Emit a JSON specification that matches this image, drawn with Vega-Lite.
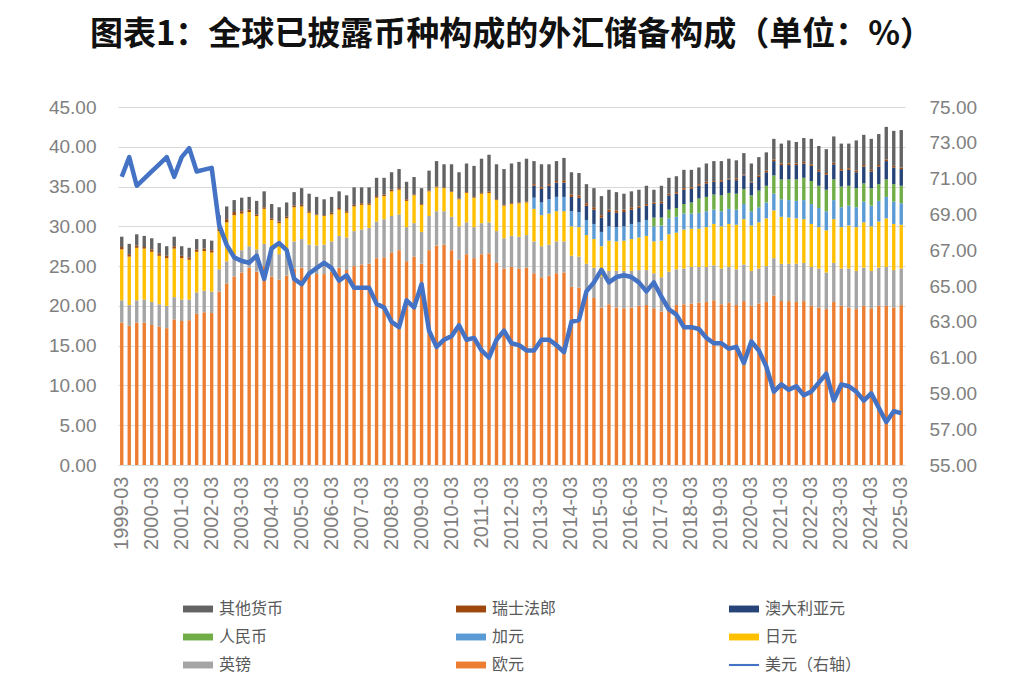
{
  "$schema": "https://vega.github.io/schema/vega-lite/v6.json",
  "autosize": {"type": "none"},
  "width": 787,
  "height": 358,
  "padding": {"left": 118, "top": 107, "right": 119, "bottom": 222},
  "background": "white",
  "title": {
    "text": "图表1：全球已披露币种构成的外汇储备构成（单位：%）",
    "font": "Noto Sans CJK SC",
    "fontSize": 33,
    "fontWeight": "bold",
    "color": "#111111",
    "anchor": "middle",
    "offset": 46
  },
  "datasets": {
    "reserves": [
      {"q": "1999-03", "eur": 17.9, "gbp": 2.8, "jpy": 6.4, "chf": 0.3, "oth": 1.3, "usd": 71.1},
      {"q": "1999-06", "eur": 17.5, "gbp": 2.6, "jpy": 6.1, "chf": 0.3, "oth": 1.3, "usd": 72.2},
      {"q": "1999-09", "eur": 17.9, "gbp": 2.8, "jpy": 6.6, "chf": 0.3, "oth": 1.4, "usd": 70.6},
      {"q": "1999-12", "eur": 17.9, "gbp": 2.9, "jpy": 6.4, "chf": 0.2, "oth": 1.4, "usd": 71.0},
      {"q": "2000-03", "eur": 17.6, "gbp": 2.9, "jpy": 6.3, "chf": 0.3, "oth": 1.4, "usd": 71.4},
      {"q": "2000-06", "eur": 17.4, "gbp": 2.8, "jpy": 6.1, "chf": 0.3, "oth": 1.3, "usd": 71.8},
      {"q": "2000-09", "eur": 17.2, "gbp": 2.8, "jpy": 6.0, "chf": 0.3, "oth": 1.2, "usd": 72.2},
      {"q": "2000-12", "eur": 18.3, "gbp": 2.8, "jpy": 6.1, "chf": 0.3, "oth": 1.2, "usd": 71.1},
      {"q": "2001-03", "eur": 18.1, "gbp": 2.7, "jpy": 5.2, "chf": 0.3, "oth": 1.2, "usd": 72.2},
      {"q": "2001-06", "eur": 18.2, "gbp": 2.6, "jpy": 5.0, "chf": 0.3, "oth": 1.2, "usd": 72.7},
      {"q": "2001-09", "eur": 19.0, "gbp": 2.7, "jpy": 5.1, "chf": 0.3, "oth": 1.3, "usd": 71.4},
      {"q": "2001-12", "eur": 19.2, "gbp": 2.7, "jpy": 5.0, "chf": 0.3, "oth": 1.2, "usd": 71.5},
      {"q": "2002-03", "eur": 19.1, "gbp": 2.7, "jpy": 4.9, "chf": 0.3, "oth": 1.2, "usd": 71.6},
      {"q": "2002-06", "eur": 21.8, "gbp": 2.8, "jpy": 4.8, "chf": 0.4, "oth": 1.6, "usd": 68.4},
      {"q": "2002-09", "eur": 22.8, "gbp": 2.8, "jpy": 4.9, "chf": 0.4, "oth": 1.6, "usd": 67.3},
      {"q": "2002-12", "eur": 23.7, "gbp": 2.8, "jpy": 4.9, "chf": 0.4, "oth": 1.5, "usd": 66.6},
      {"q": "2003-03", "eur": 24.2, "gbp": 2.8, "jpy": 4.6, "chf": 0.3, "oth": 1.7, "usd": 66.4},
      {"q": "2003-06", "eur": 24.8, "gbp": 2.7, "jpy": 4.3, "chf": 0.3, "oth": 1.6, "usd": 66.3},
      {"q": "2003-09", "eur": 24.3, "gbp": 2.8, "jpy": 4.2, "chf": 0.2, "oth": 1.7, "usd": 66.7},
      {"q": "2003-12", "eur": 25.0, "gbp": 2.8, "jpy": 4.4, "chf": 0.2, "oth": 2.0, "usd": 65.4},
      {"q": "2004-03", "eur": 23.7, "gbp": 3.1, "jpy": 4.0, "chf": 0.2, "oth": 1.8, "usd": 67.1},
      {"q": "2004-06", "eur": 23.3, "gbp": 3.2, "jpy": 3.9, "chf": 0.2, "oth": 1.8, "usd": 67.4},
      {"q": "2004-09", "eur": 23.8, "gbp": 3.2, "jpy": 4.0, "chf": 0.2, "oth": 1.8, "usd": 67.0},
      {"q": "2004-12", "eur": 24.7, "gbp": 3.4, "jpy": 4.3, "chf": 0.2, "oth": 1.7, "usd": 65.4},
      {"q": "2005-03", "eur": 24.8, "gbp": 3.6, "jpy": 4.1, "chf": 0.2, "oth": 2.1, "usd": 65.1},
      {"q": "2005-06", "eur": 24.1, "gbp": 3.6, "jpy": 4.0, "chf": 0.2, "oth": 2.2, "usd": 65.7},
      {"q": "2005-09", "eur": 24.0, "gbp": 3.6, "jpy": 3.8, "chf": 0.1, "oth": 2.2, "usd": 66.0},
      {"q": "2005-12", "eur": 24.0, "gbp": 3.7, "jpy": 3.6, "chf": 0.1, "oth": 2.0, "usd": 66.3},
      {"q": "2006-03", "eur": 24.3, "gbp": 3.8, "jpy": 3.4, "chf": 0.2, "oth": 2.0, "usd": 66.0},
      {"q": "2006-06", "eur": 24.8, "gbp": 4.0, "jpy": 3.3, "chf": 0.2, "oth": 2.1, "usd": 65.3},
      {"q": "2006-09", "eur": 24.5, "gbp": 4.1, "jpy": 3.1, "chf": 0.2, "oth": 2.0, "usd": 65.6},
      {"q": "2006-12", "eur": 25.0, "gbp": 4.4, "jpy": 3.1, "chf": 0.2, "oth": 2.2, "usd": 64.9},
      {"q": "2007-03", "eur": 25.2, "gbp": 4.4, "jpy": 3.1, "chf": 0.2, "oth": 2.0, "usd": 64.9},
      {"q": "2007-06", "eur": 25.3, "gbp": 4.5, "jpy": 2.9, "chf": 0.2, "oth": 2.0, "usd": 64.9},
      {"q": "2007-09", "eur": 26.0, "gbp": 4.6, "jpy": 3.0, "chf": 0.2, "oth": 2.3, "usd": 64.0},
      {"q": "2007-12", "eur": 26.1, "gbp": 4.8, "jpy": 2.9, "chf": 0.2, "oth": 2.1, "usd": 63.8},
      {"q": "2008-03", "eur": 26.7, "gbp": 4.6, "jpy": 3.1, "chf": 0.2, "oth": 2.2, "usd": 63.0},
      {"q": "2008-06", "eur": 27.0, "gbp": 4.5, "jpy": 3.1, "chf": 0.2, "oth": 2.4, "usd": 62.7},
      {"q": "2008-09", "eur": 25.6, "gbp": 4.3, "jpy": 3.3, "chf": 0.2, "oth": 2.2, "usd": 64.2},
      {"q": "2008-12", "eur": 26.2, "gbp": 4.2, "jpy": 3.5, "chf": 0.1, "oth": 2.2, "usd": 63.8},
      {"q": "2009-03", "eur": 25.3, "gbp": 4.0, "jpy": 3.4, "chf": 0.1, "oth": 2.0, "usd": 65.1},
      {"q": "2009-06", "eur": 27.0, "gbp": 4.3, "jpy": 3.1, "chf": 0.1, "oth": 2.5, "usd": 62.5},
      {"q": "2009-09", "eur": 27.6, "gbp": 4.3, "jpy": 3.0, "chf": 0.1, "oth": 3.2, "usd": 61.6},
      {"q": "2009-12", "eur": 27.7, "gbp": 4.2, "jpy": 2.9, "chf": 0.1, "oth": 2.9, "usd": 62.0},
      {"q": "2010-03", "eur": 27.0, "gbp": 4.2, "jpy": 3.1, "chf": 0.1, "oth": 3.4, "usd": 62.2},
      {"q": "2010-06", "eur": 25.8, "gbp": 4.2, "jpy": 3.4, "chf": 0.1, "oth": 3.3, "usd": 62.8},
      {"q": "2010-09", "eur": 26.5, "gbp": 4.0, "jpy": 3.7, "chf": 0.1, "oth": 3.6, "usd": 62.0},
      {"q": "2010-12", "eur": 26.0, "gbp": 3.9, "jpy": 3.7, "chf": 0.1, "oth": 3.9, "usd": 62.1},
      {"q": "2011-03", "eur": 26.5, "gbp": 3.9, "jpy": 3.7, "chf": 0.1, "oth": 4.3, "usd": 61.4},
      {"q": "2011-06", "eur": 26.6, "gbp": 3.9, "jpy": 3.7, "chf": 0.2, "oth": 4.6, "usd": 61.0},
      {"q": "2011-09", "eur": 25.4, "gbp": 4.0, "jpy": 3.9, "chf": 0.1, "oth": 4.4, "usd": 62.0},
      {"q": "2011-12", "eur": 24.7, "gbp": 3.8, "jpy": 4.1, "chf": 0.1, "oth": 4.5, "usd": 62.5},
      {"q": "2012-03", "eur": 24.9, "gbp": 3.9, "jpy": 4.0, "chf": 0.1, "oth": 5.0, "usd": 61.8},
      {"q": "2012-06", "eur": 24.7, "gbp": 4.0, "jpy": 4.2, "chf": 0.1, "oth": 5.1, "usd": 61.7},
      {"q": "2012-09", "eur": 24.8, "gbp": 4.1, "jpy": 4.1, "chf": 0.1, "oth": 5.4, "usd": 61.4},
      {"q": "2012-12", "eur": 24.1, "gbp": 4.0, "jpy": 4.1, "cad": 1.4, "aud": 1.5, "chf": 0.2, "oth": 2.9, "usd": 61.4},
      {"q": "2013-03", "eur": 23.6, "gbp": 3.9, "jpy": 3.9, "cad": 1.6, "aud": 1.7, "chf": 0.2, "oth": 2.9, "usd": 62.0},
      {"q": "2013-06", "eur": 23.8, "gbp": 3.9, "jpy": 3.9, "cad": 1.8, "aud": 1.7, "chf": 0.2, "oth": 2.5, "usd": 62.0},
      {"q": "2013-09", "eur": 24.1, "gbp": 4.0, "jpy": 3.8, "cad": 1.8, "aud": 1.8, "chf": 0.2, "oth": 2.5, "usd": 61.7},
      {"q": "2013-12", "eur": 24.2, "gbp": 3.9, "jpy": 3.8, "cad": 1.8, "aud": 1.8, "chf": 0.3, "oth": 2.8, "usd": 61.3},
      {"q": "2014-03", "eur": 22.4, "gbp": 3.9, "jpy": 3.7, "cad": 1.9, "aud": 1.8, "chf": 0.3, "oth": 2.8, "usd": 63.0},
      {"q": "2014-06", "eur": 22.3, "gbp": 3.9, "jpy": 3.7, "cad": 1.9, "aud": 1.8, "chf": 0.3, "oth": 2.8, "usd": 63.1},
      {"q": "2014-09", "eur": 21.5, "gbp": 3.8, "jpy": 3.6, "cad": 1.9, "aud": 1.8, "chf": 0.3, "oth": 2.4, "usd": 64.7},
      {"q": "2014-12", "eur": 21.0, "gbp": 3.8, "jpy": 3.6, "cad": 1.9, "aud": 1.8, "chf": 0.3, "oth": 2.4, "usd": 65.2},
      {"q": "2015-03", "eur": 19.8, "gbp": 3.9, "jpy": 3.8, "cad": 1.8, "aud": 1.8, "chf": 0.3, "oth": 2.4, "usd": 65.9},
      {"q": "2015-06", "eur": 20.2, "gbp": 4.2, "jpy": 3.8, "cad": 1.8, "aud": 1.8, "chf": 0.3, "oth": 2.5, "usd": 65.2},
      {"q": "2015-09", "eur": 19.8, "gbp": 4.6, "jpy": 3.7, "cad": 1.8, "aud": 1.8, "chf": 0.3, "oth": 2.3, "usd": 65.5},
      {"q": "2015-12", "eur": 19.7, "gbp": 4.7, "jpy": 3.8, "cad": 1.8, "aud": 1.8, "chf": 0.3, "oth": 2.0, "usd": 65.6},
      {"q": "2016-03", "eur": 19.8, "gbp": 4.6, "jpy": 4.0, "cad": 1.9, "aud": 1.8, "chf": 0.3, "oth": 2.0, "usd": 65.5},
      {"q": "2016-06", "eur": 20.0, "gbp": 4.5, "jpy": 4.1, "cad": 1.9, "aud": 1.8, "chf": 0.2, "oth": 2.1, "usd": 65.2},
      {"q": "2016-09", "eur": 20.1, "gbp": 4.4, "jpy": 4.3, "cad": 2.0, "aud": 1.8, "chf": 0.2, "oth": 2.3, "usd": 64.7},
      {"q": "2016-12", "eur": 19.7, "gbp": 4.4, "jpy": 4.0, "cad": 1.9, "rmb": 1.1, "aud": 1.7, "chf": 0.2, "oth": 1.6, "usd": 65.2},
      {"q": "2017-03", "eur": 19.3, "gbp": 4.3, "jpy": 4.6, "cad": 1.9, "rmb": 1.0, "aud": 1.8, "chf": 0.2, "oth": 2.0, "usd": 64.4},
      {"q": "2017-06", "eur": 19.9, "gbp": 4.4, "jpy": 4.7, "cad": 2.0, "rmb": 1.1, "aud": 1.8, "chf": 0.2, "oth": 2.0, "usd": 63.7},
      {"q": "2017-09", "eur": 20.1, "gbp": 4.5, "jpy": 4.6, "cad": 2.0, "rmb": 1.1, "aud": 1.8, "chf": 0.2, "oth": 2.0, "usd": 63.4},
      {"q": "2017-12", "eur": 20.2, "gbp": 4.5, "jpy": 4.9, "cad": 2.0, "rmb": 1.2, "aud": 1.8, "chf": 0.2, "oth": 2.3, "usd": 62.7},
      {"q": "2018-03", "eur": 20.3, "gbp": 4.6, "jpy": 4.8, "cad": 1.9, "rmb": 1.4, "aud": 1.7, "chf": 0.2, "oth": 2.2, "usd": 62.7},
      {"q": "2018-06", "eur": 20.4, "gbp": 4.5, "jpy": 4.8, "cad": 2.0, "rmb": 1.8, "aud": 1.6, "chf": 0.2, "oth": 2.1, "usd": 62.6},
      {"q": "2018-09", "eur": 20.5, "gbp": 4.4, "jpy": 5.0, "cad": 2.0, "rmb": 1.8, "aud": 1.7, "chf": 0.2, "oth": 2.3, "usd": 62.1},
      {"q": "2018-12", "eur": 20.7, "gbp": 4.4, "jpy": 5.2, "cad": 1.8, "rmb": 1.9, "aud": 1.6, "chf": 0.1, "oth": 2.5, "usd": 61.8},
      {"q": "2019-03", "eur": 20.2, "gbp": 4.5, "jpy": 5.3, "cad": 1.9, "rmb": 2.0, "aud": 1.7, "chf": 0.2, "oth": 2.4, "usd": 61.8},
      {"q": "2019-06", "eur": 20.4, "gbp": 4.5, "jpy": 5.4, "cad": 1.9, "rmb": 2.0, "aud": 1.7, "chf": 0.1, "oth": 2.5, "usd": 61.5},
      {"q": "2019-09", "eur": 20.1, "gbp": 4.5, "jpy": 5.6, "cad": 1.9, "rmb": 2.0, "aud": 1.7, "chf": 0.2, "oth": 2.3, "usd": 61.6},
      {"q": "2019-12", "eur": 20.6, "gbp": 4.6, "jpy": 5.7, "cad": 1.9, "rmb": 1.9, "aud": 1.7, "chf": 0.1, "oth": 2.7, "usd": 60.7},
      {"q": "2020-03", "eur": 20.0, "gbp": 4.4, "jpy": 5.7, "cad": 1.8, "rmb": 2.0, "aud": 1.6, "chf": 0.1, "oth": 2.3, "usd": 61.9},
      {"q": "2020-06", "eur": 20.3, "gbp": 4.4, "jpy": 5.8, "cad": 1.9, "rmb": 2.1, "aud": 1.7, "chf": 0.2, "oth": 2.3, "usd": 61.4},
      {"q": "2020-09", "eur": 20.5, "gbp": 4.5, "jpy": 6.0, "cad": 2.0, "rmb": 2.1, "aud": 1.7, "chf": 0.2, "oth": 2.3, "usd": 60.5},
      {"q": "2020-12", "eur": 21.3, "gbp": 4.7, "jpy": 6.0, "cad": 2.1, "rmb": 2.3, "aud": 1.8, "chf": 0.2, "oth": 2.6, "usd": 59.1},
      {"q": "2021-03", "eur": 20.6, "gbp": 4.7, "jpy": 5.9, "cad": 2.2, "rmb": 2.5, "aud": 1.8, "chf": 0.2, "oth": 2.5, "usd": 59.5},
      {"q": "2021-06", "eur": 20.6, "gbp": 4.7, "jpy": 5.8, "cad": 2.2, "rmb": 2.6, "aud": 1.8, "chf": 0.2, "oth": 2.9, "usd": 59.2},
      {"q": "2021-09", "eur": 20.5, "gbp": 4.8, "jpy": 5.7, "cad": 2.2, "rmb": 2.7, "aud": 1.8, "chf": 0.2, "oth": 2.7, "usd": 59.4},
      {"q": "2021-12", "eur": 20.6, "gbp": 4.8, "jpy": 5.5, "cad": 2.4, "rmb": 2.8, "aud": 1.8, "chf": 0.2, "oth": 3.0, "usd": 58.9},
      {"q": "2022-03", "eur": 20.0, "gbp": 4.9, "jpy": 5.4, "cad": 2.5, "rmb": 2.9, "aud": 1.9, "chf": 0.2, "oth": 3.2, "usd": 59.1},
      {"q": "2022-06", "eur": 19.8, "gbp": 4.9, "jpy": 5.2, "cad": 2.4, "rmb": 2.8, "aud": 1.8, "chf": 0.2, "oth": 3.0, "usd": 59.6},
      {"q": "2022-09", "eur": 19.6, "gbp": 4.6, "jpy": 5.3, "cad": 2.4, "rmb": 2.7, "aud": 1.9, "chf": 0.2, "oth": 3.0, "usd": 60.1},
      {"q": "2022-12", "eur": 20.5, "gbp": 4.9, "jpy": 5.5, "cad": 2.4, "rmb": 2.6, "aud": 1.9, "chf": 0.2, "oth": 3.3, "usd": 58.6},
      {"q": "2023-03", "eur": 20.0, "gbp": 4.7, "jpy": 5.2, "cad": 2.5, "rmb": 2.6, "aud": 2.0, "chf": 0.2, "oth": 3.2, "usd": 59.5},
      {"q": "2023-06", "eur": 19.8, "gbp": 4.9, "jpy": 5.4, "cad": 2.5, "rmb": 2.5, "aud": 2.0, "chf": 0.2, "oth": 3.1, "usd": 59.4},
      {"q": "2023-09", "eur": 19.6, "gbp": 4.8, "jpy": 5.5, "cad": 2.5, "rmb": 2.4, "aud": 2.0, "chf": 0.2, "oth": 3.8, "usd": 59.1},
      {"q": "2023-12", "eur": 20.0, "gbp": 4.8, "jpy": 5.7, "cad": 2.6, "rmb": 2.3, "aud": 2.1, "chf": 0.2, "oth": 3.8, "usd": 58.6},
      {"q": "2024-03", "eur": 19.7, "gbp": 4.7, "jpy": 5.6, "cad": 2.6, "rmb": 2.2, "aud": 2.1, "chf": 0.2, "oth": 3.9, "usd": 59.0},
      {"q": "2024-06", "eur": 20.0, "gbp": 4.8, "jpy": 5.8, "cad": 2.6, "rmb": 2.1, "aud": 2.2, "chf": 0.2, "oth": 3.9, "usd": 58.2},
      {"q": "2024-09", "eur": 20.0, "gbp": 4.9, "jpy": 6.1, "cad": 2.7, "rmb": 2.2, "aud": 2.3, "chf": 0.2, "oth": 4.1, "usd": 57.4},
      {"q": "2024-12", "eur": 19.8, "gbp": 4.7, "jpy": 5.8, "cad": 2.8, "rmb": 2.2, "aud": 2.1, "chf": 0.2, "oth": 4.4, "usd": 58.0},
      {"q": "2025-03", "eur": 20.1, "gbp": 4.6, "jpy": 5.5, "cad": 2.7, "rmb": 2.2, "aud": 2.1, "chf": 0.2, "oth": 4.7, "usd": 57.9}
    ],
    "names": [
      {"k": "eur", "name": "欧元", "rank": 1},
      {"k": "gbp", "name": "英镑", "rank": 2},
      {"k": "jpy", "name": "日元", "rank": 3},
      {"k": "cad", "name": "加元", "rank": 4},
      {"k": "rmb", "name": "人民币", "rank": 5},
      {"k": "aud", "name": "澳大利亚元", "rank": 6},
      {"k": "chf", "name": "瑞士法郎", "rank": 7},
      {"k": "oth", "name": "其他货币", "rank": 8}
    ]
  },
  "data": {"name": "reserves"},
  "encoding": {
    "x": {
      "field": "q",
      "type": "ordinal",
      "sort": null,
      "scale": {"paddingInner": 0.55, "paddingOuter": 0.275},
      "axis": {
        "title": null,
        "values": ["1999-03", "2000-03", "2001-03", "2002-03", "2003-03", "2004-03", "2005-03", "2006-03", "2007-03", "2008-03", "2009-03", "2010-03", "2011-03", "2012-03", "2013-03", "2014-03", "2015-03", "2016-03", "2017-03", "2018-03", "2019-03", "2020-03", "2021-03", "2022-03", "2023-03", "2024-03", "2025-03"],
        "labelAngle": -90,
        "labelPadding": 11,
        "labelFontSize": 20,
        "ticks": false,
        "domain": false,
        "labelOverlap": false
      }
    }
  },
  "layer": [
    {
      "transform": [
        {"fold": ["eur", "gbp", "jpy", "cad", "rmb", "aud", "chf", "oth"], "as": ["k", "v"]},
        {"filter": "isValid(datum.v)"},
        {"lookup": "k", "from": {"data": {"name": "names"}, "key": "k", "fields": ["name", "rank"]}}
      ],
      "mark": {"type": "bar"},
      "encoding": {
        "y": {
          "field": "v",
          "type": "quantitative",
          "stack": "zero",
          "scale": {"domain": [0, 45], "nice": false},
          "axis": {
            "title": null,
            "values": [0, 5, 10, 15, 20, 25, 30, 35, 40, 45],
            "format": ".2f",
            "grid": true,
            "gridColor": "#d9d9d9",
            "domain": false,
            "ticks": false,
            "labelPadding": 22
          }
        },
        "color": {
          "field": "name",
          "type": "nominal",
          "scale": {
            "domain": ["其他货币", "瑞士法郎", "澳大利亚元", "人民币", "加元", "日元", "英镑", "欧元", "美元（右轴）"],
            "range": ["#636363", "#9E480E", "#264478", "#70AD47", "#5B9BD5", "#FFC000", "#A5A5A5", "#ED7D31", "#4472C4"]
          },
          "legend": {
            "title": null,
            "orient": "none",
            "legendX": 65,
            "legendY": 487,
            "direction": "horizontal",
            "columns": 3,
            "columnPadding": 172,
            "rowPadding": 5,
            "symbolType": "M-1,-0.23H1V0.23H-1Z",
            "symbolSize": 900,
            "symbolStrokeWidth": 0,
            "labelOffset": 6,
            "labelFont": "Noto Sans CJK SC",
            "labelFontSize": 16,
            "labelColor": "#595959",
            "encode": {
              "symbols": {
                "update": {
                  "shape": {"signal": "datum.value == '美元（右轴）' ? 'M-1,-0.07H1V0.07H-1Z' : 'M-1,-0.23H1V0.23H-1Z'"},
                  "fill": {"scale": "color", "field": "value"},
                  "opacity": {"value": 1}
                }
              }
            }
          }
        },
        "order": {"field": "rank", "type": "quantitative"}
      }
    },
    {
      "mark": {"type": "line", "strokeWidth": 4.5, "strokeJoin": "round"},
      "encoding": {
        "y": {
          "field": "usd",
          "type": "quantitative",
          "scale": {"domain": [55, 75], "nice": false, "zero": false},
          "axis": {
            "orient": "right",
            "title": null,
            "values": [55, 57, 59, 61, 63, 65, 67, 69, 71, 73, 75],
            "format": ".2f",
            "grid": false,
            "domain": false,
            "ticks": false,
            "labelPadding": 24
          }
        },
        "color": {"datum": "美元（右轴）"}
      }
    }
  ],
  "resolve": {"scale": {"y": "independent"}},
  "config": {
    "view": {"stroke": null},
    "axis": {
      "labelFont": "Liberation Sans",
      "labelFontSize": 19,
      "labelColor": "#808080"
    }
  }
}
